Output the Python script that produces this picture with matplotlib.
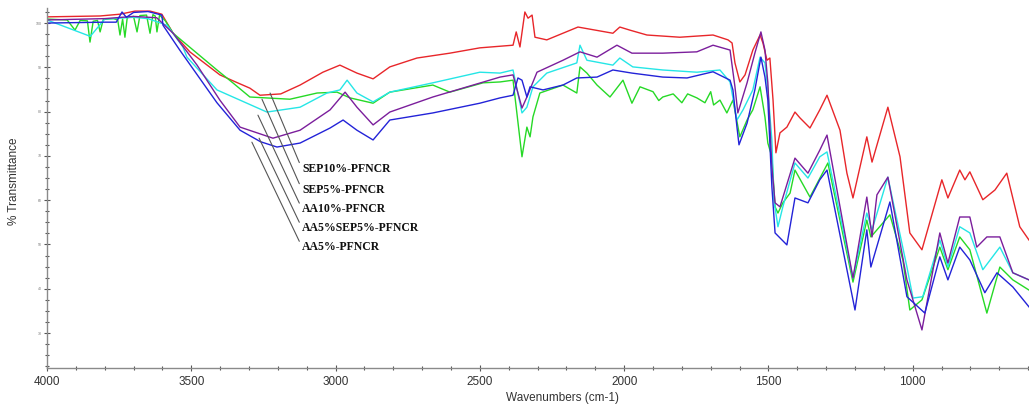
import matplotlib
matplotlib.use("Agg")
import matplotlib.pyplot as plt
from matplotlib.ticker import MultipleLocator

plt.rcParams['font.family'] = ['Liberation Sans', 'DejaVu Sans']

# FTIR spectra (wavenumber in cm-1, % transmittance)
sep10_wn = [4000, 3816, 3747, 3695, 3643, 3602, 3563, 3505, 3401, 3350,
            3297, 3262, 3190, 3123, 3044, 2985, 2926, 2870, 2812, 2718,
            2604, 2500, 2385, 2374, 2361, 2344, 2333, 2319, 2309, 2268,
            2160, 2039, 2015, 1980, 1921, 1807, 1692, 1640, 1626, 1616,
            1599, 1581, 1554, 1529, 1519, 1505, 1495, 1484, 1474, 1460,
            1436, 1408, 1391, 1356, 1322, 1297, 1252, 1228, 1207, 1159,
            1141, 1086, 1044, 1010, 968, 899, 878, 837, 819, 802,
            757, 715, 674, 629, 597]
sep10_t = [101.4, 101.6, 102.0, 102.7, 102.7, 102.0, 97.7, 93.5, 88.3, 86.8,
           85.3, 83.7, 84.0, 86.0, 88.9, 90.5, 88.7, 87.4, 90.1, 92.1,
           93.2, 94.4, 95.0, 98.0, 94.6, 102.5, 101.1, 101.8, 96.8, 96.2,
           99.1, 97.7, 99.1, 98.4, 97.3, 96.8, 97.3, 96.2, 95.5, 91.0,
           86.7, 88.3, 93.9, 97.3, 95.5, 91.6, 92.1, 82.6, 70.7, 75.2,
           76.5, 79.9, 78.6, 76.3, 80.4, 83.7, 75.8, 66.1, 60.5, 74.3,
           68.6, 81.0, 69.8, 52.6, 48.8, 64.6, 60.5, 66.8, 64.6, 66.4,
           60.1, 62.3, 66.1, 54.0, 51.0]

sep5_wn = [4000, 3930, 3903, 3885, 3860, 3851, 3840, 3825, 3816, 3805,
           3770, 3755, 3747, 3738, 3730, 3722, 3700, 3688, 3678, 3655,
           3643, 3633, 3625, 3619, 3610, 3590, 3563, 3411, 3356, 3297,
           3158, 3064, 2995, 2950, 2870, 2812, 2663, 2604, 2489, 2430,
           2385, 2354, 2337, 2326, 2316, 2292, 2212, 2164, 2153, 2129,
           2094, 2049, 2004, 1973, 1945, 1900, 1880, 1866, 1830, 1800,
           1780, 1748, 1720, 1700, 1690, 1668, 1644, 1623, 1599, 1574,
           1554, 1529, 1512, 1502, 1488, 1477, 1467, 1450, 1425, 1408,
           1356, 1294, 1207, 1159, 1145, 1079, 1034, 1010, 968, 906,
           878, 837, 802, 743, 698, 653, 597]
sep5_t = [100.9, 100.7, 98.4, 100.6, 100.5, 95.7, 100.4, 100.6, 98.0, 100.8,
          101.0, 100.7, 97.3, 100.9, 96.8, 101.2, 101.5, 98.0, 101.7, 101.8,
          97.7, 101.9, 101.6, 98.0, 101.8, 100.5, 97.7, 89.4, 86.5, 83.3,
          82.8, 84.2, 84.4, 83.1, 81.9, 84.4, 86.0, 84.4, 86.5, 86.7,
          87.1, 69.8, 76.5, 74.3, 78.8, 84.2, 86.0, 84.2, 90.1, 88.7,
          86.0, 83.3, 87.1, 81.9, 85.6, 84.5, 82.5, 83.3, 84.0, 82.0,
          84.0, 83.1, 82.0, 84.5, 81.5, 82.6, 79.7, 82.6, 74.3, 78.1,
          80.4, 85.6, 78.8, 72.9, 69.8, 58.5, 57.1, 59.4, 61.6, 66.8,
          60.7, 68.4, 41.5, 55.5, 51.7, 56.7, 46.5, 35.2, 37.5, 49.4,
          44.3, 51.7, 48.8, 34.5, 44.9, 42.0, 39.7]

aa10_wn = [4000, 3850, 3800, 3700, 3650, 3584, 3529, 3515, 3411, 3238,
           3123, 3030, 2985, 2960, 2926, 2870, 2812, 2663, 2500, 2430,
           2385, 2354, 2337, 2316, 2268, 2164, 2153, 2129, 2039, 2015,
           1970, 1866, 1748, 1668, 1633, 1609, 1588, 1554, 1529, 1512,
           1502, 1488, 1481, 1467, 1450, 1408, 1363, 1322, 1297, 1207,
           1159, 1141, 1086, 1020, 999, 965, 906, 878, 837, 802,
           757, 698, 653, 597]
aa10_t = [100.7, 97.0, 100.9, 101.3, 101.0, 99.5, 94.6, 92.3, 84.9, 79.9,
          81.0, 84.2, 84.9, 87.1, 84.2, 82.2, 84.4, 86.5, 88.9, 88.7,
          89.4, 79.7, 81.0, 85.6, 88.7, 91.0, 95.0, 91.6, 90.5, 92.1,
          90.1, 89.4, 88.9, 89.4, 86.7, 78.1, 80.4, 84.9, 92.3, 91.0,
          84.9, 73.6, 60.1, 54.0, 58.5, 68.4, 65.0, 69.8, 70.9, 42.4,
          57.1, 53.3, 65.2, 44.9, 37.9, 38.2, 51.0, 44.9, 54.0, 52.6,
          44.3, 49.4, 43.6, 42.0]

aa5sep5_wn = [4000, 3800, 3700, 3620, 3563, 3480, 3401, 3331, 3217, 3123,
              3019, 2967, 2926, 2870, 2812, 2663, 2430, 2385, 2354, 2337,
              2302, 2212, 2153, 2094, 2025, 1973, 1866, 1748, 1692, 1633,
              1616, 1606, 1574, 1547, 1526, 1512, 1502, 1488, 1477, 1460,
              1408, 1363, 1322, 1297, 1207, 1159, 1141, 1124, 1086, 1020,
              968, 906, 878, 837, 802, 778, 743, 698, 653, 597]
aa5sep5_t = [100.7, 101.0, 101.5, 101.2, 97.7, 90.5, 82.6, 76.5, 74.0, 75.8,
             80.4, 84.4, 81.0, 77.0, 79.9, 83.3, 87.8, 88.3, 80.8, 83.3,
             88.9, 91.6, 93.5, 92.3, 95.0, 93.2, 93.2, 93.5, 95.0, 93.9,
             85.6, 79.7, 86.5, 93.2, 98.0, 93.9, 86.5, 67.5, 59.4, 58.5,
             69.5, 66.1, 71.3, 74.7, 42.4, 60.7, 51.7, 61.2, 65.2, 42.0,
             30.7, 52.6, 45.8, 56.2, 56.2, 49.4, 51.7, 51.7, 43.6, 42.0]

aa5_wn = [4000, 3800, 3760, 3740, 3725, 3700, 3650, 3602, 3598, 3540,
          3411, 3331, 3260, 3203, 3123, 3019, 2974, 2926, 2870, 2812,
          2663, 2500, 2430, 2385, 2368, 2354, 2337, 2326, 2281, 2212,
          2164, 2094, 2039, 1973, 1866, 1782, 1692, 1633, 1623, 1609,
          1602, 1574, 1547, 1526, 1512, 1502, 1488, 1477, 1436, 1408,
          1363, 1322, 1297, 1200, 1159, 1145, 1079, 1020, 958, 906,
          878, 837, 802, 750, 708, 653, 597]
aa5_t = [100.0, 100.2, 100.2, 102.5, 101.3, 102.4, 102.6, 101.8, 99.5, 93.9,
         82.0, 75.8, 73.2, 72.0, 72.9, 76.3, 78.1, 75.8, 73.6, 78.1,
         79.7, 81.9, 83.1, 83.7, 87.6, 87.1, 83.3, 85.6, 84.9, 86.0,
         87.6, 87.8, 89.4, 88.7, 87.8, 87.6, 89.0, 87.1, 84.9, 76.5,
         72.5, 77.4, 84.9, 92.3, 87.8, 82.6, 63.0, 52.6, 49.9, 60.5,
         59.4, 64.6, 66.8, 35.2, 53.3, 44.9, 59.6, 38.2, 34.5, 47.2,
         42.0, 49.4, 46.5, 39.1, 43.6, 40.4, 35.9]

names = ["SEP10%-PFNCR", "SEP5%-PFNCR", "AA10%-PFNCR", "AA5%SEP5%-PFNCR", "AA5%-PFNCR"]
colors = ["#e8262a", "#26d926", "#25e6e6", "#7b1e9c", "#2323d8"]
series_wn = [sep10_wn, sep5_wn, aa10_wn, aa5sep5_wn, aa5_wn]
series_t = [sep10_t, sep5_t, aa10_t, aa5sep5_t, aa5_t]

# where each leader line touches its curve, and where its label sits
leader_wn = [3227, 3255, 3269, 3265, 3290]
leader_t = [84.2, 82.8, 79.2, 74.0, 73.1]
label_wn = 3116
label_t = [67.0, 62.3, 58.0, 53.7, 49.4]

fig = plt.figure(figsize=(10.29, 4.07), dpi=100)
ax = fig.add_axes([47 / 1029, 39 / 407, 982 / 1029, 360 / 407])

for wn, t, c in zip(series_wn, series_t, colors):
    ax.plot(wn, t, color=c, lw=1.0)

for name, lx, ly, ty in zip(names, leader_wn, leader_t, label_t):
    ax.annotate(name, xy=(lx, ly), xytext=(label_wn, ty),
                ha="left", va="center", fontsize=8.5,
                family=["Liberation Serif", "DejaVu Serif"], weight="bold",
                color="#111111",
                arrowprops=dict(arrowstyle="-", color="#555555", lw=0.8,
                                shrinkA=0, shrinkB=0, relpos=(0, 0.5)))

ax.set_xlim(4000, 597)
ax.set_ylim(22.1, 103.4)

for side in ["top", "right"]:
    ax.spines[side].set_visible(False)
for side in ["left", "bottom"]:
    ax.spines[side].set_color("#8a8a8a")
    ax.spines[side].set_linewidth(1.0)

ax.xaxis.set_major_locator(MultipleLocator(500))
ax.xaxis.set_minor_locator(MultipleLocator(100))
ax.yaxis.set_major_locator(MultipleLocator(10))
ax.yaxis.set_minor_locator(MultipleLocator(2.5))
ax.tick_params(axis="both", which="major", direction="inout", length=5,
               width=0.8, color="#555555", labelsize=8.5, labelcolor="#333333")
ax.tick_params(axis="both", which="minor", direction="inout", length=3,
               width=0.8, color="#555555")
ax.tick_params(axis="y", which="major", labelsize=2.5, pad=1, labelcolor="#777777")

ax.set_xlabel("Wavenumbers (cm-1)", fontsize=8.5, color="#333333")
ax.xaxis.set_label_coords(0.525, -0.068)
ax.set_ylabel("% Transmittance", fontsize=8.5, color="#333333")
ax.yaxis.set_label_coords(-0.0275, 0.52)

fig.savefig("out.png", dpi=100)
